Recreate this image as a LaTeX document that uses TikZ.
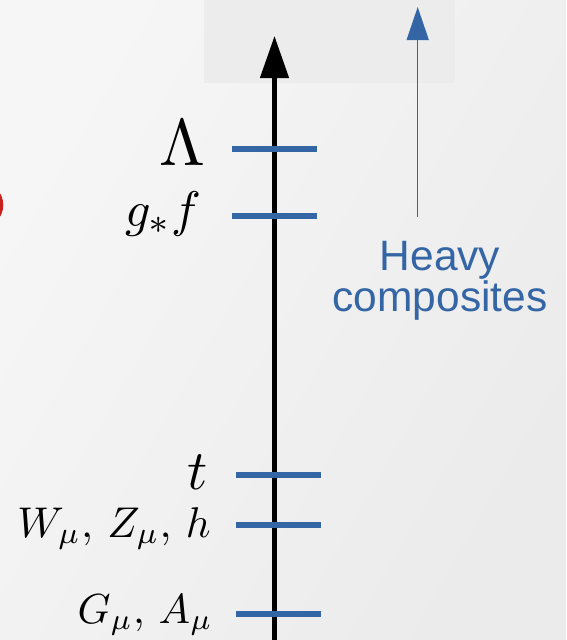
\documentclass[tikz,border=0pt]{standalone}
\usepackage{graphicx}
\usepackage{fontspec}
\newfontfamily\lsans{Liberation Sans}
\usetikzlibrary{arrows.meta}
\definecolor{tickblue}{HTML}{3465A4}
\definecolor{bgl}{HTML}{F6F6F6}
\definecolor{bgr}{HTML}{EBEBEB}
\definecolor{rectg}{HTML}{ECECEC}
\definecolor{redring}{HTML}{C9211E}
\tikzset{
  tickmark/.style={draw=tickblue, line width=5.5pt},
  lbl/.style={anchor=base east, inner sep=0pt, text=black},
}
\begin{document}
\begin{tikzpicture}[x=1pt,y=-1pt]
\useasboundingbox (0,0) rectangle (566,640);
\shade[left color=bgl, right color=bgr, shading angle=60] (0,0) rectangle (566,640);
\fill[rectg] (204,0) rectangle (455,83);
\begin{scope}
\clip (0,0) rectangle (566,640);
\draw[redring, line width=4.5pt] (-20,205) circle[radius=21];
\end{scope}
% axis
\coordinate (axbot) at (274.5,640);
\coordinate (axtop) at (274.5,36);
\draw[line width=4.5pt, -{Triangle[length=42pt,width=28pt]}] (axbot) -- (axtop);
% heavy arrow
\coordinate (hbot) at (417.7,217);
\coordinate (htop) at (417.7,7);
\draw[tickblue, line width=1.5pt, -{Triangle[length=33pt,width=22pt]}] (hbot) -- (htop);
\node[text=tickblue, font=\lsans\fontsize{42.5}{39}\selectfont, align=center, anchor=north] (hc) at (440,238) {Heavy\\composites};
% ticks
\coordinate (l1) at (232,149); \coordinate (r1) at (317,149);
\coordinate (l2) at (232,216); \coordinate (r2) at (317,216);
\coordinate (l3) at (236,475); \coordinate (r3) at (321,475);
\coordinate (l4) at (236,525); \coordinate (r4) at (321,525);
\coordinate (l5) at (236,614); \coordinate (r5) at (321,614);
\draw[tickmark] (l1) -- (r1);
\draw[tickmark] (l2) -- (r2);
\draw[tickmark] (l3) -- (r3);
\draw[tickmark] (l4) -- (r4);
\draw[tickmark] (l5) -- (r5);
% labels
\node[lbl] (lam) at (206,165) {\scalebox{6.6}{$\Lambda$}};
\node[lbl] (gf) at (202,226) {\scalebox{5.0}{$g_*f$}};
\node[lbl] (tt) at (208,489) {\scalebox{5.6}{$t$}};
\node[lbl] (wz) at (211,537) {\scalebox{4.3}{$W_\mu,\,Z_\mu,\,h$}};
\node[lbl] (ga) at (213,623) {\scalebox{4.2}{$G_\mu,\,A_\mu$}};
\end{tikzpicture}
\end{document}
